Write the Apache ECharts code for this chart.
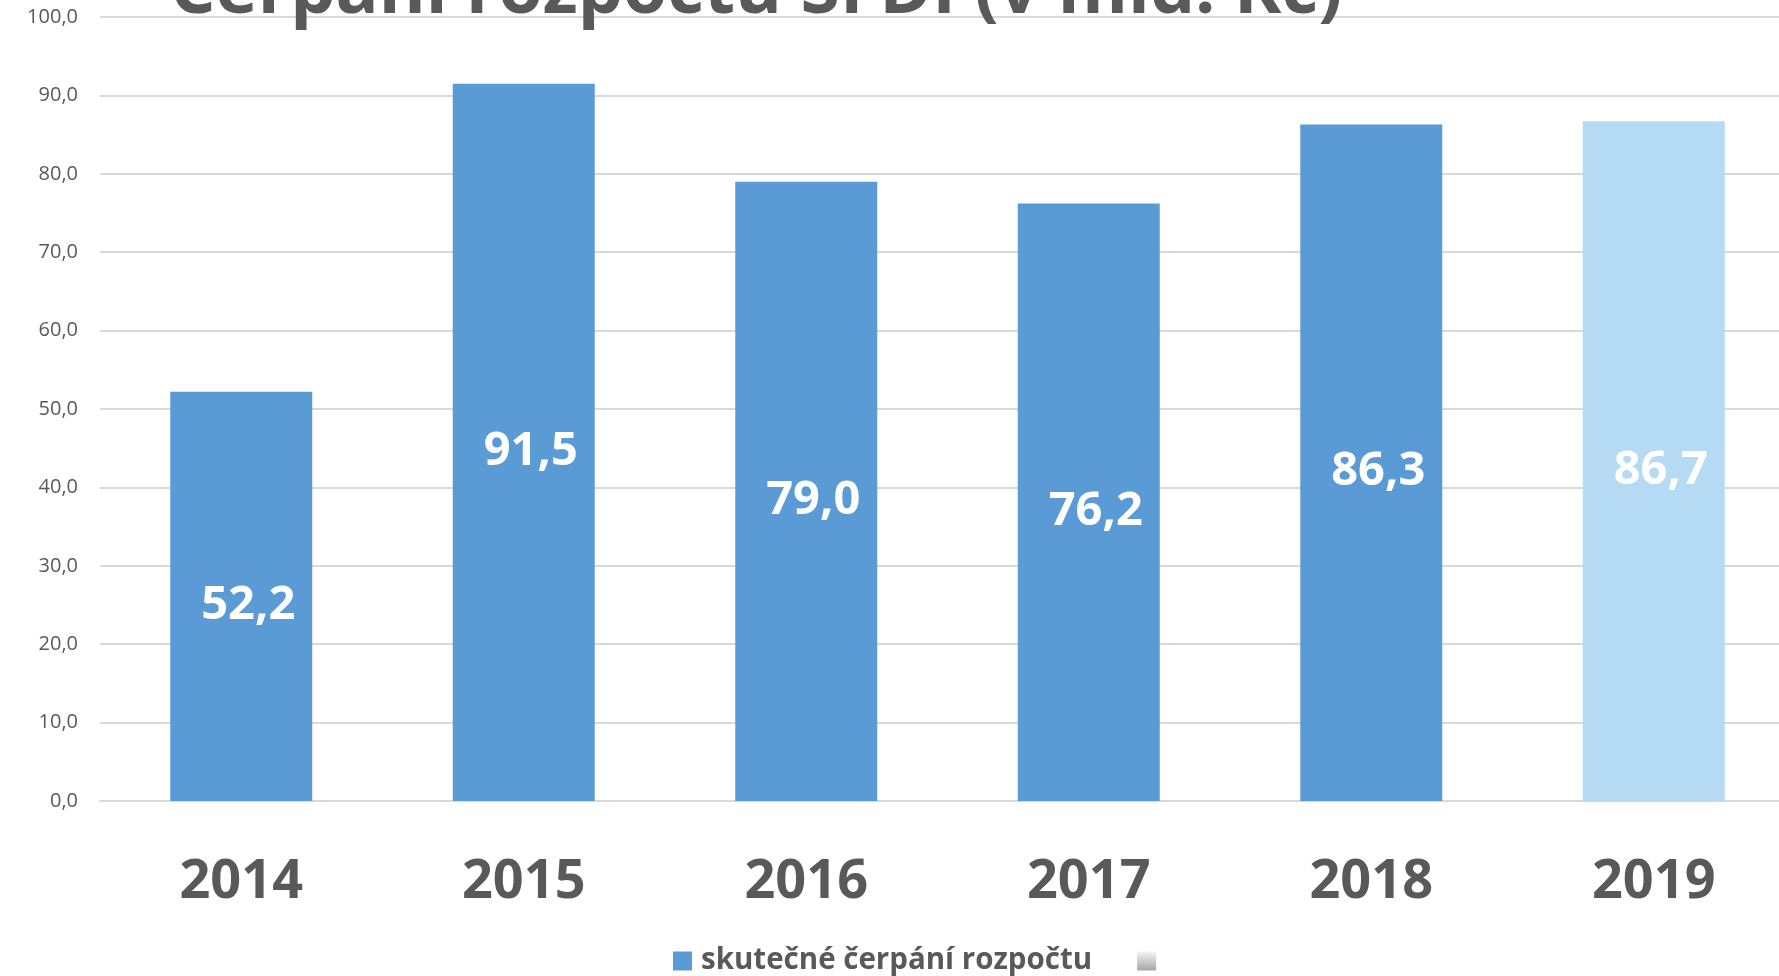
<!DOCTYPE html>
<html>
<head>
<meta charset="utf-8">
<script src="https://cdn.jsdelivr.net/npm/echarts@6/dist/echarts.min.js"></script>
<style>
  html, body { margin: 0; padding: 0; background: #ffffff; }
  #chart { width: 1779px; height: 976px; }
</style>
</head>
<body>
<div id="chart"></div>
<script>
const titleText = 'Čerpání rozpočtu SFDI (v mld. Kč)';
const categories = ['2014', '2015', '2016', '2017', '2018', '2019'];
const values = [52.2, 91.5, 79.0, 76.2, 86.3, 86.7];
const isPlanned = [false, false, false, false, false, true];
const seriesName = 'skutečné čerpání rozpočtu';
const secondSeriesName = ' ';
const yMin = 0, yMax = 100, yStep = 10;

const FONT = '"Open Sans", "DejaVu Sans", sans-serif';
const fmt = v => v.toFixed(1).replace('.', ',');

const chart = echarts.init(document.getElementById('chart'), null, { renderer: 'canvas' });
chart.setOption({
  backgroundColor: '#ffffff',
  animation: false,
  title: {
    text: titleText,
    left: 165,
    top: -48,
    textStyle: { fontFamily: FONT, fontSize: 71.5, fontWeight: 'bold', color: '#595959' }
  },
  legend: {
    left: 668,
    top: 941,
    itemWidth: 19,
    itemHeight: 19,
    itemGap: 45,
    icon: 'rect',
    textStyle: { fontFamily: FONT, fontSize: 29.5, fontWeight: 'bold', color: '#595959', padding: [0, 0, 0, 4] },
    data: [seriesName, secondSeriesName]
  },
  grid: { left: 100, width: 1695, top: 17, bottom: 175, containLabel: false, outerBoundsMode: 'none' },
  xAxis: {
    type: 'category',
    data: categories,
    axisLine: { show: true, lineStyle: { color: '#d9d9d9', width: 2 } },
    axisTick: { show: false },
    axisLabel: { fontFamily: FONT, fontSize: 54, fontWeight: 'bold', color: '#595959', margin: 55 }
  },
  yAxis: {
    type: 'value',
    min: yMin, max: yMax, interval: yStep,
    axisLine: { show: false },
    axisTick: { show: false },
    splitLine: { lineStyle: { color: '#d9d9d9', width: 2 } },
    axisLabel: { fontFamily: FONT, fontSize: 20, color: '#595959', margin: 22, formatter: v => fmt(v) }
  },
  series: [
    {
      name: seriesName,
      type: 'bar',
      barWidth: 142,
      barGap: '-100%',
      itemStyle: { color: '#5B9BD5' },
      data: values.map((v, i) => isPlanned[i] ? { value: v, itemStyle: { color: '#B5DAF3' } } : v),
      label: {
        show: true,
        position: 'inside',
        offset: [7, 9],
        fontFamily: FONT, fontSize: 47, fontWeight: 'bold', color: '#ffffff',
        formatter: p => fmt(p.value)
      }
    },
    {
      name: secondSeriesName,
      type: 'bar',
      barWidth: 142,
      barGap: '-100%',
      itemStyle: {
        color: new echarts.graphic.LinearGradient(0, 0, 0, 1, [
          { offset: 0, color: '#f4f4f4' },
          { offset: 1, color: '#a6a6a6' }
        ])
      },
      data: categories.map(() => null)
    }
  ]
});
</script>
</body>
</html>
